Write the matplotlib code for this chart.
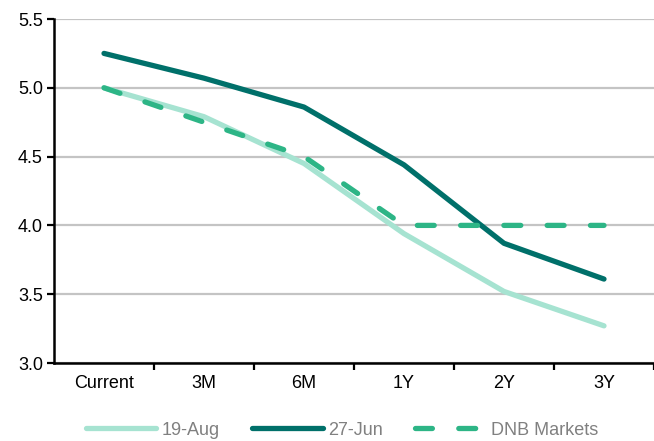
import numpy as np
import matplotlib.pyplot as plt
from matplotlib.ticker import FixedLocator

plt.rcParams['font.family'] = ['Liberation Sans', 'DejaVu Sans']

horizons = ['Current', '3M', '6M', '1Y', '2Y', '3Y']
aug19 = [5.00, 4.79, 4.45, 3.94, 3.52, 3.27]
jun27 = [5.25, 5.07, 4.86, 4.44, 3.87, 3.61]
dnb = [5.00, 4.75, 4.50, 4.00, 4.00, 4.00]

x = np.arange(len(horizons))

fig = plt.figure(figsize=(6.54, 4.41), dpi=100)
ax = fig.add_axes([54 / 654, 78 / 441, 600 / 654, 344 / 441])

ax.plot(x, aug19, color='#a6e3d1', lw=3.8, solid_capstyle='round', label='19-Aug', zorder=3)
ax.plot(x, jun27, color='#00706a', lw=3.8, solid_capstyle='round', label='27-Jun', zorder=4)
ax.plot(x, dnb, color='#2db586', lw=3.8, dashes=(3.2, 5.0), dash_capstyle='round',
        label='DNB Markets', zorder=5)

ax.set_xlim(-0.5, 5.5)
ax.set_ylim(3.0, 5.5)
ax.set_yticks(np.arange(3.0, 5.51, 0.5))
ax.yaxis.set_major_formatter(plt.FormatStrFormatter('%.1f'))
ax.yaxis.grid(True, color='#c4c4c4', lw=1.6)
ax.set_axisbelow(True)

ax.set_xticks(x)
ax.set_xticklabels(horizons)
ax.xaxis.set_minor_locator(FixedLocator(np.arange(0.5, 5.6, 1.0)))
ax.tick_params(axis='x', which='major', length=0, pad=9, labelsize=13, colors='black')
ax.tick_params(axis='x', which='minor', length=5, width=1.6, direction='out')
ax.tick_params(axis='y', length=5, width=1.6, direction='out', pad=3, labelsize=13)

for side in ['top', 'right']:
    ax.spines[side].set_visible(False)
for side in ['left', 'bottom']:
    ax.spines[side].set_linewidth(1.8)
    ax.spines[side].set_color('black')

leg = ax.legend(loc='center', bbox_to_anchor=(0.48, -0.195), ncol=3, frameon=False,
                fontsize=13, handlelength=3.9, handletextpad=0.3, columnspacing=1.8)
for t in leg.get_texts():
    t.set_color('#808080')

fig.savefig('out.png', dpi=100)
